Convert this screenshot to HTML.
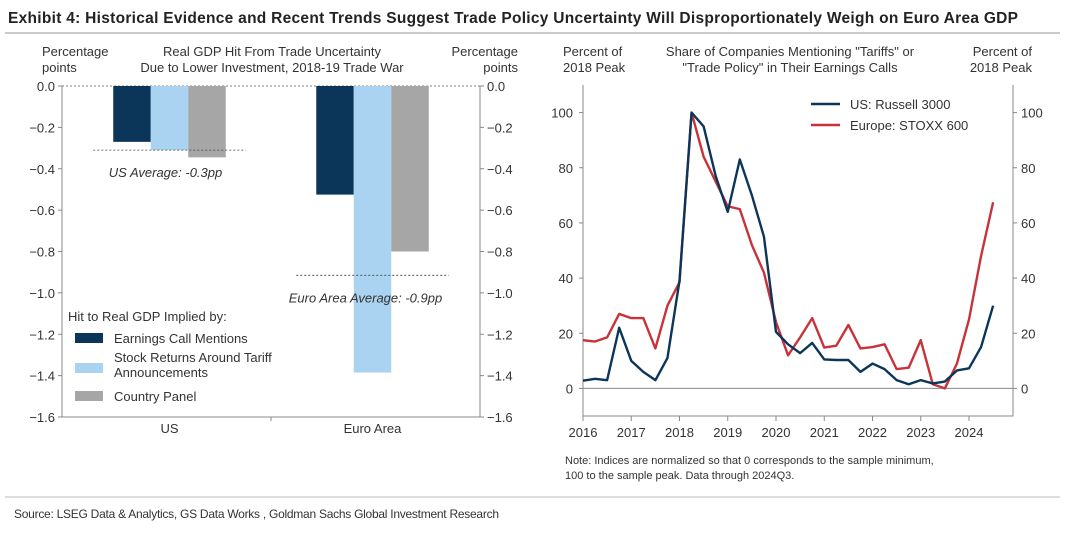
<!DOCTYPE html>
<html><head><meta charset="utf-8"><style>
body{margin:0;background:#fff;font-family:"Liberation Sans",Arial,sans-serif;}
svg text{font-family:"Liberation Sans",Arial,sans-serif;}
</style></head><body>
<svg id="c" width="1080" height="534" xmlns="http://www.w3.org/2000/svg">
<text x="8" y="23" font-size="15.5" font-weight="bold" fill="#222" textLength="1010">Exhibit 4: Historical Evidence and Recent Trends Suggest Trade Policy Uncertainty Will Disproportionately Weigh on Euro Area GDP</text>
<line x1="5" y1="33" x2="1060" y2="33" stroke="#999" stroke-width="1"/>
<g id="left"></g>
<g id="right"></g>
<line x1="5" y1="497" x2="1060" y2="497" stroke="#bbb"/>
<text x="14" y="518" font-size="12" fill="#333" textLength="485">Source: LSEG Data &amp; Analytics, GS Data Works , Goldman Sachs Global Investment Research</text>
</svg>
<script>
const barCategories=["US","Euro Area"];
const earningsVals=[-0.27,-0.525];
const stockVals=[-0.31,-1.385];
const panelVals=[-0.345,-0.80];
const averages=[-0.31,-0.915];
const yTicksL=[0,-0.2,-0.4,-0.6,-0.8,-1.0,-1.2,-1.4,-1.6];

const lineYears=[2016,2017,2018,2019,2020,2021,2022,2023,2024];
const usVals=[2.8,3.5,3,22,10,6,3,11,39,100,95,77,64,83,70,55,20.5,16,12.8,16.5,10.5,10.3,10.3,6,9,7,3,1.5,3,1.8,2.5,6.5,7.3,15,30];
const euVals=[17.5,17,18.5,27,25.5,25.5,14.5,30,38.5,100,84,75,66,65,52,42,24,12,18.5,25.5,14.8,15.5,23,14.5,15,16,7,7.5,17.5,1.5,0,9,25,48,67.5];
const yTicksR=[0,20,40,60,80,100];

const NS="http://www.w3.org/2000/svg";
function mk(p,t,a,txt){const e=document.createElementNS(NS,t);for(const k in a)e.setAttribute(k,a[k]);if(txt!==undefined)e.textContent=txt;p.appendChild(e);return e;}
// LEFT
const L=document.getElementById('left');
const lx0=62,lx1=480,ly0=86,ly1=417;
const yL=v=>ly0+(0-v)/1.6*(ly1-ly0);
[["Percentage",42,56],["points",42,72]].forEach(d=>{const t=mk(L,'text',{x:d[1],y:d[2],'font-size':13,fill:'#333'},d[0]);});
[["Percentage",518,56],["points",518,72]].forEach(d=>{const t=mk(L,'text',{x:d[1],y:d[2],'font-size':13,fill:'#333','text-anchor':'end'},d[0]);});
[["Real GDP Hit From Trade Uncertainty",56],["Due to Lower Investment, 2018-19 Trade War",72]].forEach(d=>{const t=mk(L,'text',{x:272,y:d[1],'font-size':13,fill:'#333','text-anchor':'middle'},d[0]);});
mk(L,'line',{x1:lx0,y1:ly0,x2:lx1,y2:ly0,stroke:'#555','stroke-dasharray':'2,2','stroke-width':0.8});
const cols=['#0b3559','#a9d3f0','#a6a6a6'];
const series=[earningsVals,stockVals,panelVals];
const groupW=(lx1-lx0)/barCategories.length, bw=37.5;
barCategories.forEach((c,i)=>{
  const cx=lx0+groupW*(i+0.5)+(i==0?3:-3);
  series.forEach((s,j)=>{
    const x=cx-1.5*bw+j*bw;
    const r=mk(L,'rect',{x:x,y:ly0,width:bw,height:yL(s[i])-ly0,fill:cols[j]});
    
    
  });
  const ay=yL(averages[i]);
  const al=mk(L,'line',{x1:cx-1.5*bw-20,y1:ay,x2:cx+1.5*bw+20,y2:ay,stroke:'#444','stroke-dasharray':'2,2','stroke-width':0.8});
  
  
  const at=mk(L,'text',{x:cx+(i==0?-4:-7),y:ay+27,'font-size':13,'font-style':'italic',fill:'#333','text-anchor':'middle'},(i==0?'US Average: ':'Euro Area Average: ')+averages[i].toFixed(1)+'pp');
  
  
  const xl=mk(L,'text',{x:cx,y:ly1+16,'font-size':13,fill:'#333','text-anchor':'middle'},c);
  
  
});
mk(L,'polyline',{points:`${lx0},${ly0} ${lx0},${ly1} ${lx1},${ly1} ${lx1},${ly0}`,fill:'none',stroke:'#888','stroke-width':1});
mk(L,'line',{x1:(lx0+lx1)/2,y1:ly1,x2:(lx0+lx1)/2,y2:ly1+4,stroke:'#888'});
yTicksL.forEach(v=>{const y=yL(v);
  mk(L,'line',{x1:lx0-4,y1:y,x2:lx0,y2:y,stroke:'#888'});mk(L,'line',{x1:lx1,y1:y,x2:lx1+4,y2:y,stroke:'#888'});
  const s=v===0?'0.0':'\u2212'+Math.abs(v).toFixed(1);
  const a=mk(L,'text',{x:lx0-7,y:y+5,'font-size':13,fill:'#333','text-anchor':'end'},s);
  
  
  const b=mk(L,'text',{x:lx1+7,y:y+5,'font-size':13,fill:'#333'},s);
  
  
});
const lg=mk(L,'text',{x:68,y:321,'font-size':13,fill:'#333'},'Hit to Real GDP Implied by:');


[["Earnings Call Mentions",null,338],["Stock Returns Around Tariff","Announcements",368],["Country Panel",null,396]].forEach((d,j)=>{
  const r=mk(L,'rect',{x:75,y:d[2]-5,width:28,height:10,fill:cols[j]});
  
  
  const t=mk(L,'text',{x:114,y:d[1]?d[2]-6:d[2]+5,'font-size':13,fill:'#333'},d[0]);
  
  
  if(d[1]){const t2=mk(L,'text',{x:114,y:d[2]+9,'font-size':13,fill:'#333'},d[1]);}
});
// RIGHT
const R=document.getElementById('right');
const rx0=583,rx1=1013,ry0=85,ry1=416,yMin=-10,yMax=110;
const xR=i=>rx0+i*(969-583)/32;
const yR=v=>ry1-(v-yMin)/(yMax-yMin)*(ry1-ry0);
[["Percent of",563,56],["2018 Peak",563,72]].forEach(d=>{const t=mk(R,'text',{x:d[1],y:d[2],'font-size':13,fill:'#333'},d[0]);});
[["Percent of",1032,56],["2018 Peak",1032,72]].forEach(d=>{const t=mk(R,'text',{x:d[1],y:d[2],'font-size':13,fill:'#333','text-anchor':'end'},d[0]);});
[["Share of Companies Mentioning \"Tariffs\" or",56],["\"Trade Policy\" in Their Earnings Calls",72]].forEach(d=>{const t=mk(R,'text',{x:790,y:d[1],'font-size':13,fill:'#333','text-anchor':'middle'},d[0]);});
mk(R,'polyline',{points:`${rx0},${ry0} ${rx0},${ry1} ${rx1},${ry1} ${rx1},${ry0}`,fill:'none',stroke:'#888'});
mk(R,'line',{x1:rx0,y1:yR(0),x2:rx1,y2:yR(0),stroke:'#888'});
yTicksR.forEach(v=>{const y=yR(v);
  mk(R,'line',{x1:rx0-4,y1:y,x2:rx0,y2:y,stroke:'#888'});mk(R,'line',{x1:rx1,y1:y,x2:rx1+4,y2:y,stroke:'#888'});
  const a=mk(R,'text',{x:rx0-10,y:y+5,'font-size':13,fill:'#333','text-anchor':'end'},v);
  
  
  const b=mk(R,'text',{x:rx1+8,y:y+5,'font-size':13,fill:'#333'},v);
  
  
});
lineYears.forEach((yr,k)=>{const x=xR(k*4);
  mk(R,'line',{x1:x,y1:ry1,x2:x,y2:ry1+5,stroke:'#888'});
  const t=mk(R,'text',{x:x,y:ry1+21,'font-size':13,fill:'#333','text-anchor':'middle'},yr);
  
  
});
[[euVals,'#c8323a','europe-line'],[usVals,'#0b3559','us-line']].forEach(d=>{
  const p=mk(R,'polyline',{points:d[0].map((v,i)=>xR(i)+','+yR(v)).join(' '),fill:'none',stroke:d[1],'stroke-width':2.4,'stroke-linejoin':'round'});
  
  
});
[["US: Russell 3000",'#0b3559',104],["Europe: STOXX 600",'#c8323a',125]].forEach(d=>{
  mk(R,'line',{x1:811,y1:d[2],x2:840,y2:d[2],stroke:d[1],'stroke-width':2.6});
  const t=mk(R,'text',{x:850,y:d[2]+5,'font-size':13,fill:'#333'},d[0]);
  
  
});
[["Note: Indices are normalized so that 0 corresponds to the sample minimum,",464],["100 to the sample peak. Data through 2024Q3.",479]].forEach(d=>{const t=mk(R,'text',{x:565,y:d[1],'font-size':11,fill:'#333'},d[0]);});
</script>
</body></html>
